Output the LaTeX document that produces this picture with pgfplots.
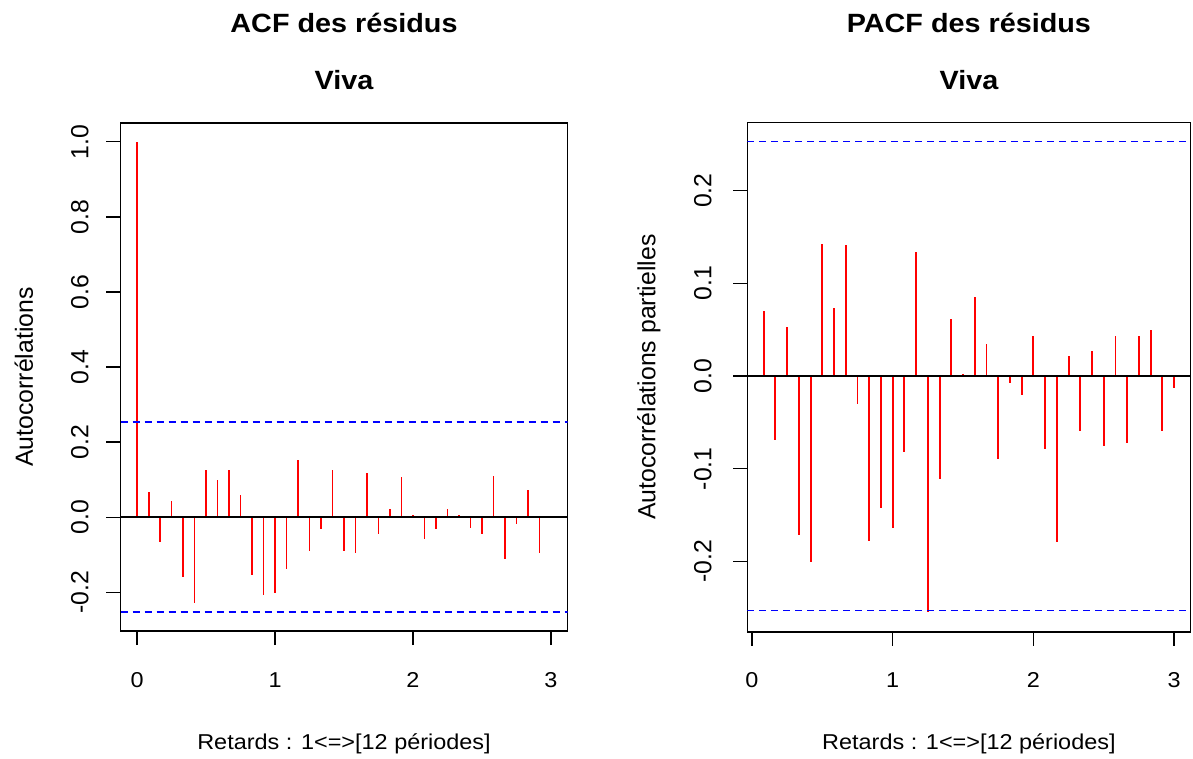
\documentclass[border=0pt]{standalone}
\usepackage{fontspec}
\setmainfont{Liberation Sans}[FakeStretch=1.09]
\newfontfamily\rotfont{Liberation Sans}
\usepackage{pgfplots}
\pgfplotsset{compat=1.18}
\newcommand{\hfnt}{\fontsize{21.5}{26}\selectfont}
\newcommand{\rfnt}{\rotfont\fontsize{24.8}{29}\selectfont}
\newcommand{\tfnt}{\bfseries\fontsize{26.4}{31}\selectfont}
\definecolor{rred}{RGB}{255,0,0}
\definecolor{rblue}{RGB}{0,0,255}
\pgfplotsset{
  rstyle/.style={
    scale only axis,
    axis line style={line width=1.6pt, black},
    tick style={line width=1.3pt, black},
    tick align=outside,
    major tick length=14pt,
    xtick pos=left, ytick pos=left,
    xtick={0,1,2,3},
    xticklabels={0,1,2,3},
    xticklabel style={font=\hfnt, anchor=base, yshift=-42pt},
    yticklabel style={font=\rfnt, rotate=90, anchor=base},
    clip mode=individual,
  }
}
\begin{document}
\begin{tikzpicture}
\useasboundingbox (0pt,0pt) rectangle (1193pt,758pt);
% ---------------- ACF ----------------
\begin{axis}[rstyle,
  at={(120.5pt,127pt)}, anchor=south west,
  width=447pt, height=508pt,
  xmin=-0.12, xmax=3.12, ymin=-0.3031, ymax=1.0501,
  ytick={-0.2,0,0.2,0.4,0.6,0.8,1.0},
  yticklabels={-0.2,0.0,0.2,0.4,0.6,0.8,1.0},
  yticklabel style={yshift=18pt},
]
\addplot[ycomb, rred, line width=1.9pt, no marks] coordinates {
(0,1.0) (0.08333,0.067) (0.16667,-0.066) (0.25,0.043) (0.33333,-0.158)
(0.41667,-0.229) (0.5,0.127) (0.58333,0.098) (0.66667,0.127) (0.75,0.060)
(0.83333,-0.154) (0.91667,-0.208) (1,-0.201) (1.08333,-0.137) (1.16667,0.152)
(1.25,-0.091) (1.33333,-0.032) (1.41667,0.127) (1.5,-0.091) (1.58333,-0.095)
(1.66667,0.118) (1.75,-0.044) (1.83333,0.021) (1.91667,0.106) (2,0.005)
(2.08333,-0.058) (2.16667,-0.032) (2.25,0.021) (2.33333,0.005) (2.41667,-0.028)
(2.5,-0.044) (2.58333,0.109) (2.66667,-0.112) (2.75,-0.019) (2.83333,0.072)
(2.91667,-0.095) (3,-0.003)};
\addplot[black, line width=1.8pt, no marks] coordinates {(-0.12,0) (3.12,0)};
\addplot[rblue, line width=1.5pt, dash pattern=on 7pt off 5pt, no marks] coordinates {(-0.12,0.253) (3.12,0.253)};
\addplot[rblue, line width=1.5pt, dash pattern=on 7pt off 5pt, no marks] coordinates {(-0.12,-0.253) (3.12,-0.253)};
\node[font=\tfnt, anchor=base] at ([yshift=90pt]rel axis cs:0.5,1) {ACF des résidus};
\node[font=\tfnt, anchor=base] at ([yshift=33pt]rel axis cs:0.5,1) {Viva};
\node[font=\rfnt, rotate=90, anchor=base] at ([xshift=-87.5pt]rel axis cs:0,0.5) {Autocorrélations};
\node[font=\hfnt, anchor=base] at ([yshift=-118pt]rel axis cs:0.5,0) {Retards : 1<=>[12 périodes]};
\end{axis}
% ---------------- PACF ----------------
\begin{axis}[rstyle,
  at={(747.3pt,126.3pt)}, anchor=south west,
  width=443.2pt, height=509.1pt,
  xmin=-0.0333, xmax=3.1167, ymin=-0.2758, ymax=0.2733,
  ytick={-0.2,-0.1,0,0.1,0.2},
  yticklabels={-0.2,-0.1,0.0,0.1,0.2},
  yticklabel style={yshift=22pt},
]
\addplot[ycomb, rred, line width=1.9pt, no marks] coordinates {
(0.08333,0.070) (0.16667,-0.069) (0.25,0.053) (0.33333,-0.171)
(0.41667,-0.201) (0.5,0.142) (0.58333,0.073) (0.66667,0.141) (0.75,-0.030)
(0.83333,-0.178) (0.91667,-0.142) (1,-0.164) (1.08333,-0.082) (1.16667,0.134)
(1.25,-0.255) (1.33333,-0.111) (1.41667,0.061) (1.5,0.002) (1.58333,0.085)
(1.66667,0.034) (1.75,-0.089) (1.83333,-0.008) (1.91667,-0.020) (2,0.043)
(2.08333,-0.079) (2.16667,-0.179) (2.25,0.022) (2.33333,-0.059) (2.41667,0.027)
(2.5,-0.076) (2.58333,0.043) (2.66667,-0.072) (2.75,0.043) (2.83333,0.050)
(2.91667,-0.059) (3,-0.013)};
\addplot[black, line width=1.8pt, no marks] coordinates {(-0.0333,0) (3.1167,0)};
\addplot[rblue, line width=1.5pt, dash pattern=on 7pt off 5pt, no marks] coordinates {(-0.0333,0.253) (3.1167,0.253)};
\addplot[rblue, line width=1.5pt, dash pattern=on 7pt off 5pt, no marks] coordinates {(-0.0333,-0.253) (3.1167,-0.253)};
\node[font=\tfnt, anchor=base] at ([yshift=90pt]rel axis cs:0.5,1) {PACF des résidus};
\node[font=\tfnt, anchor=base] at ([yshift=33pt]rel axis cs:0.5,1) {Viva};
\node[font=\rfnt, rotate=90, anchor=base] at ([xshift=-92pt]rel axis cs:0,0.5) {Autocorrélations partielles};
\node[font=\hfnt, anchor=base] at ([yshift=-118pt]rel axis cs:0.5,0) {Retards : 1<=>[12 périodes]};
\end{axis}
\end{tikzpicture}
\end{document}
